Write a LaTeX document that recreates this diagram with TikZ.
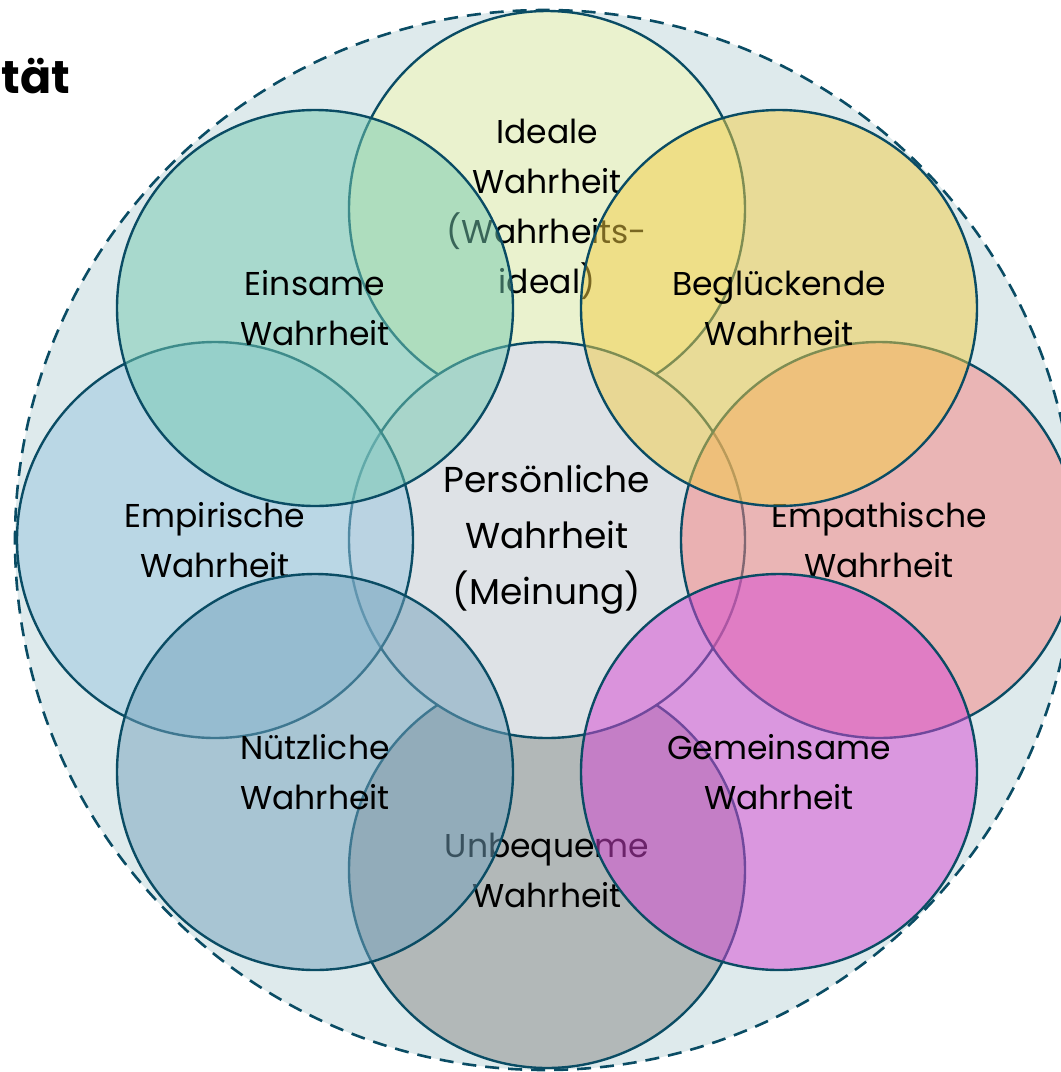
\documentclass[tikz,border=0pt]{standalone}
\usepackage{fontspec}
\setmainfont{Poppins}
\definecolor{edge}{RGB}{10,76,100}
\definecolor{bgc}{RGB}{222,234,236}
\definecolor{cIdeale}{RGB}{234,242,206}
\definecolor{cUnbequeme}{RGB}{178,184,184}
\definecolor{cPers}{RGB}{222,226,230}
\definecolor{cEmpirisch}{RGB}{151,198,224}
\definecolor{cEmpathisch}{RGB}{247,130,128}
\definecolor{cEinsam}{RGB}{115,202,176}
\definecolor{cGlueck}{RGB}{243,206,68}
\definecolor{cNuetz}{RGB}{115,162,188}
\definecolor{cGemein}{RGB}{215,70,212}
\tikzset{
  circ/.style={circle, draw=edge, line width=1.2pt, minimum size=198pt, inner sep=0pt,
    align=center, text=black, font=\fontsize{16.5}{25}\selectfont},
  glass/.style={circ, fill opacity=0.5, draw opacity=1, text opacity=1},
  outerring/.style={circle, draw=edge, line width=1.3pt, dash pattern=on 7pt off 4.5pt,
    fill=bgc, minimum size=530pt, inner sep=0pt},
}
\begin{document}
\begin{tikzpicture}[x=0.5pt,y=-0.5pt]
\useasboundingbox (0,0) rectangle (1061,1072);
\clip (0,0) rectangle (1061,1072);
\node[outerring] (outer) at (545,540) {};
\node[font=\bfseries\fontsize{23}{23}\selectfont, anchor=base west, inner sep=0pt] (title) at (1,93) {tät};
\node[circ, fill=cIdeale] (ideale) at (547,209) {Ideale\\Wahrheit\\(Wahrheits-\\ideal)};
\node[circ, fill=cUnbequeme] (unbequem) at (547,870) {Unbequeme\\Wahrheit};
\node[circ, fill=cPers, font=\fontsize{18}{28}\selectfont] (pers) at (547,540) {Persönliche\\Wahrheit\\(Meinung)};
\node[glass, fill=cEmpirisch] (empirisch) at (215,540) {Empirische\\Wahrheit};
\node[glass, fill=cEmpathisch] (empathisch) at (879,540) {Empathische\\Wahrheit};
\node[glass, fill=cEinsam] (einsam) at (315,308) {Einsame\\Wahrheit};
\node[glass, fill=cGlueck] (gluecklich) at (779,308) {Beglückende\\Wahrheit};
\node[glass, fill=cNuetz] (nuetzlich) at (315,772) {Nützliche\\Wahrheit};
\node[glass, fill=cGemein] (gemeinsam) at (779,772) {Gemeinsame\\Wahrheit};
\end{tikzpicture}
\end{document}
